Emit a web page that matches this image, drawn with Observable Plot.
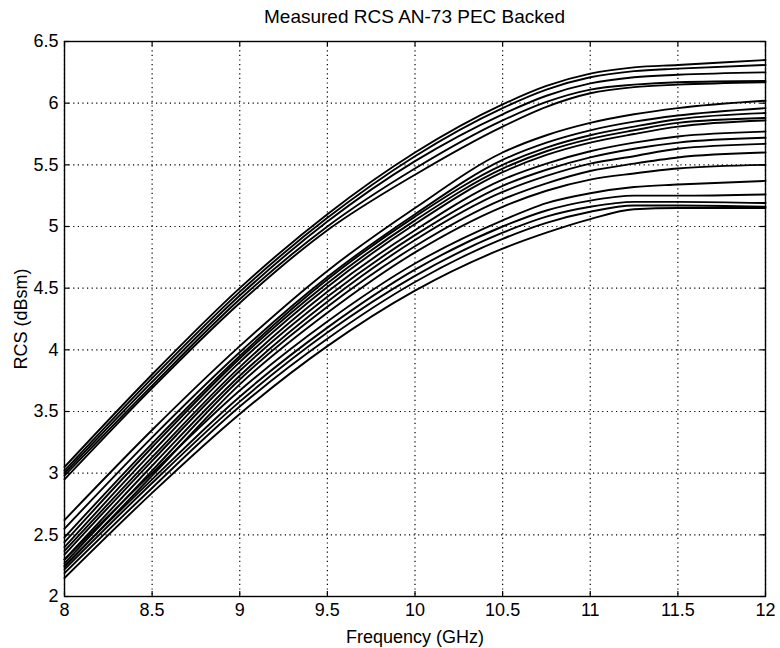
<!DOCTYPE html>
<html>
<head>
<meta charset="utf-8">
<script src="https://cdn.jsdelivr.net/npm/d3@7"></script>
<script src="https://cdn.jsdelivr.net/npm/@observablehq/plot@0.6"></script>
<style>
  html, body { margin: 0; padding: 0; background: #fff; }
  #wrap { width: 780px; height: 648px; position: relative; font-family: "Liberation Sans", Arial, Helvetica, sans-serif; }
  #title { position: absolute; left: 64px; width: 701px; top: 0; height: 34px; line-height: 34px; text-align: center; font-size: 19px; color: #000; z-index: 2; }
  #chart { position: absolute; left: 0; top: 20px; z-index: 1; }
</style>
</head>
<body>
<div id="wrap">
  <div id="title">Measured RCS AN-73 PEC Backed</div>
  <div id="chart"></div>
</div>
<script>
// Frequency samples (GHz)
const freqGHz = [8, 8.5, 9, 9.5, 10, 10.5, 10.75, 11, 11.25, 11.5, 12];

// Upper group of curves (dBsm)
const top1 = [3.05, 3.80, 4.50, 5.10, 5.60, 5.99, 6.14, 6.24, 6.29, 6.31, 6.35];
const top2 = [3.02, 3.77, 4.47, 5.07, 5.57, 5.96, 6.11, 6.21, 6.26, 6.28, 6.31];
const top3 = [3.00, 3.74, 4.44, 5.04, 5.53, 5.91, 6.06, 6.16, 6.21, 6.23, 6.25];
const top4 = [2.98, 3.71, 4.41, 5.00, 5.47, 5.86, 6.01, 6.11, 6.15, 6.17, 6.18];
const top5 = [2.95, 3.69, 4.38, 4.97, 5.42, 5.81, 5.97, 6.08, 6.13, 6.15, 6.17];

// Middle group of curves (dBsm)
const mid1 = [2.62, 3.35, 4.03, 4.64, 5.15, 5.60, 5.74, 5.84, 5.91, 5.96, 6.02];
const mid2 = [2.55, 3.29, 3.98, 4.59, 5.10, 5.54, 5.68, 5.78, 5.85, 5.90, 5.96];
const mid3 = [2.48, 3.24, 3.95, 4.57, 5.08, 5.50, 5.64, 5.74, 5.81, 5.87, 5.92];
const mid4 = [2.44, 3.21, 3.93, 4.54, 5.05, 5.47, 5.61, 5.71, 5.78, 5.84, 5.88];
const mid5 = [2.40, 3.17, 3.90, 4.51, 5.02, 5.44, 5.58, 5.68, 5.75, 5.81, 5.86];
const mid6 = [2.37, 3.13, 3.86, 4.47, 4.97, 5.38, 5.51, 5.61, 5.68, 5.73, 5.77];
const mid7 = [2.34, 3.10, 3.83, 4.43, 4.93, 5.33, 5.46, 5.56, 5.63, 5.68, 5.72];
const mid8 = [2.30, 3.06, 3.79, 4.39, 4.89, 5.28, 5.41, 5.51, 5.57, 5.63, 5.67];
const mid9 = [2.27, 3.02, 3.76, 4.35, 4.84, 5.22, 5.35, 5.45, 5.51, 5.56, 5.60];
const mid10 = [2.24, 2.98, 3.72, 4.30, 4.79, 5.16, 5.29, 5.38, 5.43, 5.47, 5.50];

// Lower group of curves (dBsm)
const low1 = [2.30, 3.00, 3.67, 4.23, 4.70, 5.05, 5.19, 5.27, 5.32, 5.34, 5.37];
const low2 = [2.25, 2.95, 3.62, 4.18, 4.65, 5.00, 5.13, 5.21, 5.25, 5.25, 5.26];
const low3 = [2.22, 2.92, 3.58, 4.14, 4.60, 4.95, 5.08, 5.16, 5.20, 5.20, 5.19];
const low4 = [2.19, 2.88, 3.54, 4.09, 4.55, 4.90, 5.03, 5.12, 5.17, 5.17, 5.16];
const low5 = [2.15, 2.84, 3.48, 4.03, 4.48, 4.82, 4.95, 5.06, 5.14, 5.15, 5.15];

// Axis ticks
const xTicks = [8, 8.5, 9, 9.5, 10, 10.5, 11, 11.5, 12];
const yTicks = [2, 2.5, 3, 3.5, 4, 4.5, 5, 5.5, 6, 6.5];

const series = [top1, top2, top3, top4, top5,
  mid1, mid2, mid3, mid4, mid5, mid6, mid7, mid8, mid9, mid10,
  low1, low2, low3, low4, low5];

const rows = [];
series.forEach((vals, i) => {
  vals.forEach((v, j) => rows.push({id: i, f: freqGHz[j], rcs: v}));
});

const W = 780, H = 628;
const mL = 64, mR = 15, mT = 21, mB = 52;
const innerW = W - mL - mR, innerH = H - mT - mB;
const TICK = 5;

const chart = Plot.plot({
  width: W,
  height: H,
  marginLeft: mL,
  marginRight: mR,
  marginTop: mT,
  marginBottom: mB,
  style: {fontFamily: "'Liberation Sans', Arial, Helvetica, sans-serif", fontSize: "18px", color: "#000", background: "transparent", overflow: "visible"},
  x: {
    domain: [8, 12],
    ticks: xTicks,
    tickSize: 0,
    tickPadding: 7,
    tickFormat: d => String(d),
    label: "Frequency (GHz)",
    labelArrow: "none",
    labelAnchor: "center",
    labelOffset: 46
  },
  y: {
    domain: [2, 6.5],
    ticks: yTicks,
    tickSize: 0,
    tickPadding: 6,
    tickFormat: d => String(d),
    label: "RCS (dBsm)",
    labelArrow: "none",
    labelAnchor: "center",
    labelOffset: 50
  },
  marks: [
    Plot.ruleX(xTicks, {x: d => d, stroke: "#000", strokeWidth: 1.2, strokeDasharray: "1.2,3.4"}),
    Plot.ruleY(yTicks, {y: d => d, stroke: "#000", strokeWidth: 1.2, strokeDasharray: "1.2,3.4"}),
    Plot.line(rows, {x: "f", y: "rcs", z: "id", stroke: "#000", strokeWidth: 1.9, strokeLinejoin: "round", curve: "monotone-x"}),
    Plot.tickX(xTicks, {x: d => d, insetTop: innerH - TICK, stroke: "#000", strokeWidth: 1.2}),
    Plot.tickX(xTicks, {x: d => d, insetBottom: innerH - TICK, stroke: "#000", strokeWidth: 1.2}),
    Plot.tickY(yTicks, {y: d => d, insetRight: innerW - TICK, stroke: "#000", strokeWidth: 1.2}),
    Plot.tickY(yTicks, {y: d => d, insetLeft: innerW - TICK, stroke: "#000", strokeWidth: 1.2}),
    Plot.frame({stroke: "#000", strokeWidth: 1.4})
  ]
});
document.getElementById("chart").appendChild(chart);
</script>
</body>
</html>
